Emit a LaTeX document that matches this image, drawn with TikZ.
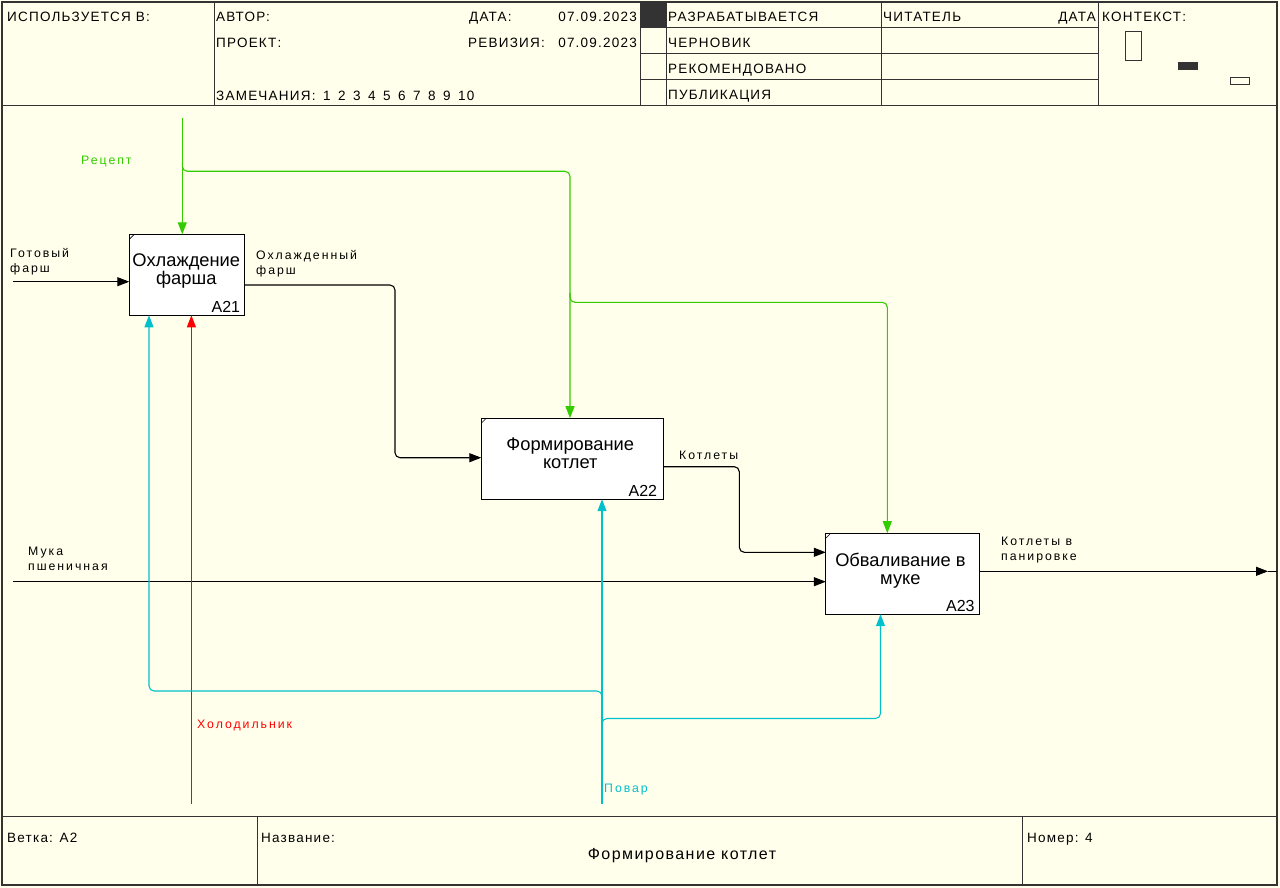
\documentclass[tikz,border=0pt]{standalone}
\usepackage{fontspec}
\setmainfont{Liberation Sans}
\newfontfamily\hdrfont{Liberation Sans}[LetterSpace=9]
\newfontfamily\lblfont{Liberation Sans}[LetterSpace=16]
\usetikzlibrary{arrows.meta}
\definecolor{bg}{RGB}{255,255,236}
\definecolor{framec}{RGB}{51,51,51}
\definecolor{ctlc}{RGB}{51,204,0}
\definecolor{mechc}{RGB}{0,192,204}
\definecolor{redc}{RGB}{255,0,0}
\newcommand{\numgap}{\hspace{7.5pt}}
\begin{document}
\begin{tikzpicture}[x=1pt,y=-1pt,
  hdr/.style={font=\hdrfont\fontsize{13.5}{15}\selectfont, anchor=base west, inner sep=0, text=black},
  lbl/.style={font=\lblfont\fontsize{12.3}{15}\selectfont, anchor=north west, inner sep=0, align=left},
  actbox/.style={draw=black, fill=white, line width=1pt, inner sep=0, outer sep=0, minimum height=81pt},
  acttext/.style={font=\fontsize{18.3}{18}\selectfont, align=center, anchor=north, inner sep=0},
  actnum/.style={font=\fontsize{16}{16}\selectfont, anchor=base east, inner sep=0},
  flow/.style={line width=1.1pt, rounded corners=5pt},
  tip/.style={-{Triangle[length=12pt,width=9pt]}},
  rule/.style={draw=framec, line width=1pt}
]
% page background and bounding box
\fill[bg] (0,0) rectangle (1280,888);
\useasboundingbox (0,0) rectangle (1280,888);

% ---- outer frame, header and footer rules
\draw[framec, line width=1.6pt] (2,2) rectangle (1277,885);
\draw[rule] (2,106) -- (1277,106);
\draw[rule] (2,816) -- (1277,816);
\draw[rule] (214,2) -- (214,106);
\draw[rule] (640,2) -- (640,106);
\draw[rule] (666,2) -- (666,106);
\draw[rule] (881,2) -- (881,106);
\draw[rule] (1098,2) -- (1098,106);
\draw[rule] (640,28) -- (1098,28);
\draw[rule] (640,54) -- (1098,54);
\draw[rule] (640,80) -- (1098,80);
\fill[framec] (640,2) rectangle (666,28);
\draw[rule] (257,816) -- (257,885);
\draw[rule] (1022,816) -- (1022,885);

% context thumbnail
\draw[framec, line width=1pt] (1125,32) rectangle (1141,61);
\fill[framec] (1178,62) rectangle (1198,70);
\draw[framec, line width=1pt] (1230,78) rectangle (1249,85);

% header texts
\node[hdr] (hUsed) at (7,22) {ИСПОЛЬЗУЕТСЯ В:};
\node[hdr] (hAuthor) at (216,22) {АВТОР:};
\node[hdr] (hDate) at (469,22) {ДАТА:};
\node[hdr, anchor=base east] (hDateV) at (637,22) {07.09.2023};
\node[hdr] (hProj) at (216,48) {ПРОЕКТ:};
\node[hdr] (hRev) at (468,48) {РЕВИЗИЯ:};
\node[hdr, anchor=base east] (hRevV) at (637,48) {07.09.2023};
\node[hdr] (hNotes) at (216,101) {ЗАМЕЧАНИЯ:\numgap 1\numgap 2\numgap 3\numgap 4\numgap 5\numgap 6\numgap 7\numgap 8\numgap 9\numgap 10};
\node[hdr] (hS1) at (668,22) {РАЗРАБАТЫВАЕТСЯ};
\node[hdr] (hS2) at (668,48) {ЧЕРНОВИК};
\node[hdr] (hS3) at (668,74) {РЕКОМЕНДОВАНО};
\node[hdr] (hS4) at (668,100) {ПУБЛИКАЦИЯ};
\node[hdr] (hReader) at (883,22) {ЧИТАТЕЛЬ};
\node[hdr, anchor=base east] (hRDate) at (1096,22) {ДАТА};
\node[hdr] (hCtx) at (1102,22) {КОНТЕКСТ:};

% footer texts
\node[hdr] (fNode) at (7,842) {Ветка: A2};
\node[hdr] (fName) at (261,842) {Название:};
\node[hdr, anchor=base, font=\hdrfont\fontsize{16}{18}\selectfont] (fTitle) at (682,859) {Формирование котлет};
\node[hdr] (fNum) at (1027,842) {Номер: 4};

% ---- activity boxes
\node[actbox, minimum width=115pt] (A21) at (186.8,274.8) {};
\node[actbox, minimum width=182pt] (A22) at (572.3,458.7) {};
\node[actbox, minimum width=154pt] (A23) at (902.8,573.7) {};
\foreach \b in {A21,A22,A23}
  \draw[line width=0.6pt] (\b.north west) ++(0,5) -- ++(5,-5);

\node[acttext] (A21t) at (186.3,253.5) {Охлаждение\\фарша};
\node[acttext] (A22t) at (570.3,438) {Формирование\\котлет};
\node[acttext] (A23t) at (900.4,552.5) {Обваливание в\\муке};
\node[actnum, xshift=-4pt, yshift=3pt] (A21n) at (A21.south east) {A21};
\node[actnum, xshift=-6pt, yshift=3pt] (A22n) at (A22.south east) {A22};
\node[actnum, xshift=-5pt, yshift=3pt] (A23n) at (A23.south east) {A23};

% ---- route points
\coordinate (inMince) at (13,281.7);
\coordinate (bendA) at (395,285);
\coordinate (bendA2) at (395,457.7);
\coordinate (bendB) at (739.3,466.7);
\coordinate (bendB2) at (739.3,552.3);
\coordinate (inFlour) at (13,581.7);
\coordinate (outTip) at (1268,571.3);
\coordinate (outEdge) at (1277,571.3);
\coordinate (ctlTop) at (182.3,118);
\coordinate (ctlJ1) at (182.3,162);
\coordinate (ctlR1) at (570,171.3);
\coordinate (ctlJ2) at (570,293);
\coordinate (ctlR2) at (887.3,302.3);
\coordinate (fridge) at (191.4,804);
\coordinate (cook) at (602,804);
\coordinate (cookJ1) at (602,700);
\coordinate (cookL) at (149,691);
\coordinate (cookJ2) at (602,727);
\coordinate (cookR) at (880.5,718.5);

% ---- inputs and outputs
\draw[flow, tip] (inMince) -- (inMince -| A21.west);
\draw[flow, tip] (bendA -| A21.east) -- (bendA) -- (bendA2) -- (bendA2 -| A22.west);
\draw[flow, tip] (bendB -| A22.east) -- (bendB) -- (bendB2) -- (bendB2 -| A23.west);
\draw[flow, tip] (inFlour) -- (inFlour -| A23.west);
\draw[flow, tip] (outTip -| A23.east) -- (outTip);
\draw[flow] (outTip) -- (outEdge);

% ---- controls
\draw[flow, tip, ctlc] (ctlTop) -- (ctlTop |- A21.north);
\draw[flow, tip, ctlc] (ctlJ1) -- (ctlJ1 |- ctlR1) -- (ctlR1) -- (ctlR1 |- A22.north);
\draw[flow, tip, ctlc] (ctlJ2) -- (ctlJ2 |- ctlR2) -- (ctlR2) -- (ctlR2 |- A23.north);

% ---- mechanisms
\draw[flow, tip, redc] (fridge) -- (fridge |- A21.south);
\draw[flow, tip, mechc] (cook) -- (cook |- A22.south);
\draw[flow, tip, mechc] (cookJ1) -- (cookJ1 |- cookL) -- (cookL) -- (cookL |- A21.south);
\draw[flow, tip, mechc] (cookJ2) -- (cookJ2 |- cookR) -- (cookR) -- (cookR |- A23.south);

% ---- arrow labels
\node[lbl] (lMince) at (10,248) {Готовый\\фарш};
\node[lbl, text=ctlc] (lRecipe) at (81,156) {Рецепт};
\node[lbl] (lChilled) at (256,250) {Охлажденный\\фарш};
\node[lbl] (lCutlets) at (679,450.5) {Котлеты};
\node[lbl] (lFlour) at (28,547) {Мука\\пшеничная};
\node[lbl] (lBreaded) at (1001,537) {Котлеты в\\панировке};
\node[lbl, text=redc] (lFridge) at (197,720) {Холодильник};
\node[lbl, text=mechc] (lCook) at (604,784) {Повар};
\end{tikzpicture}
\end{document}
